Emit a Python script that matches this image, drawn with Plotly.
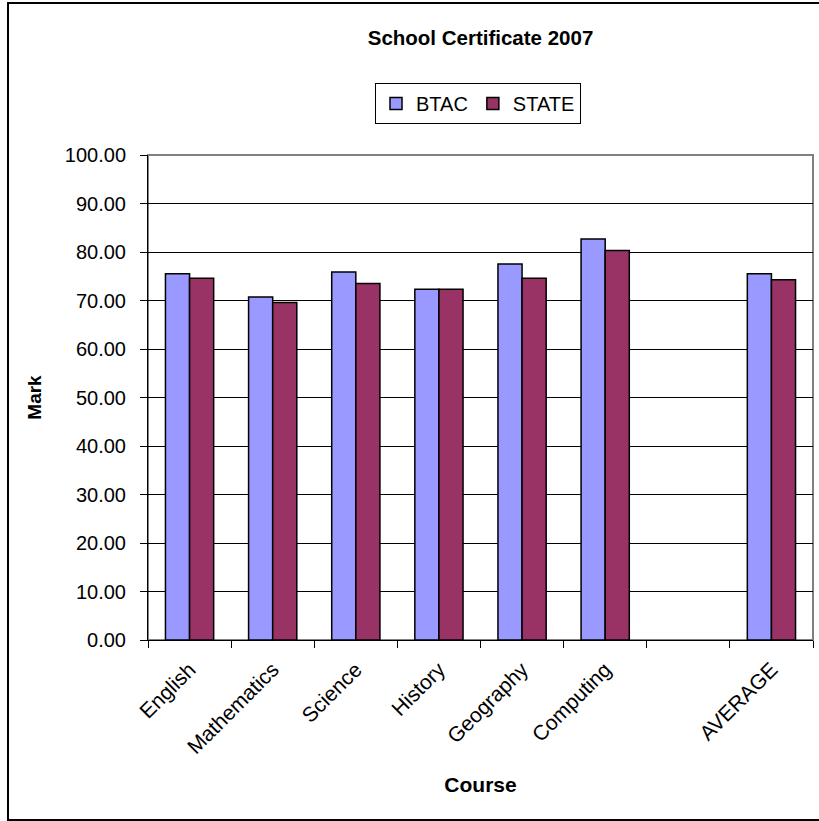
import plotly.graph_objects as go

categories = ["English", "Mathematics", "Science", "History", "Geography", "Computing", " ", "AVERAGE"]
btac = [75.5, 70.7, 75.9, 72.3, 77.5, 82.7, None, 75.5]
state = [74.6, 69.6, 73.5, 72.3, 74.6, 80.3, None, 74.3]
y_ticks = [0, 10, 20, 30, 40, 50, 60, 70, 80, 90, 100]

FONT = "Liberation Sans, Arial, sans-serif"

fig = go.Figure()
fig.add_trace(go.Bar(name="BTAC", x=categories, y=btac,
                     marker=dict(color="#9999FF", line=dict(color="black", width=1.5))))
fig.add_trace(go.Bar(name="STATE", x=categories, y=state,
                     marker=dict(color="#993366", line=dict(color="black", width=1.5))))

W, H = 819, 821
L, R, T, B = 148, 813, 155, 640

def px2x(px):
    return (px - L) / (R - L)

def py2y(py):
    return (B - py) / (B - T)

fig.update_layout(
    width=W, height=H,
    margin=dict(l=L, r=W - R, t=T, b=H - B, autoexpand=False),
    paper_bgcolor="white", plot_bgcolor="white",
    font=dict(family=FONT, size=20, color="black"),
    barmode="group", bargap=0.42, bargroupgap=0,
    title=dict(text="<b>School Certificate 2007</b>", x=0.5, xref="paper",
               y=1 - 38 / H, yref="container", yanchor="middle", xanchor="center",
               font=dict(size=20.5, family=FONT, color="black")),
    legend=dict(orientation="h", x=px2x(478), xanchor="center", y=py2y(83), yanchor="top",
                bordercolor="black", borderwidth=1, bgcolor="white",
                font=dict(size=20, family=FONT), itemwidth=30, tracegroupgap=0),
    showlegend=True,
    xaxis=dict(categoryorder="array", categoryarray=categories, tickangle=-45,
               showline=True, linecolor="black", linewidth=1,
               ticks="outside", ticklen=7, tickcolor="black", tickson="boundaries",
               tickfont=dict(size=21, family=FONT), ticklabelstandoff=8,
               title=dict(text="<b>Course</b>", font=dict(size=21, family=FONT), standoff=20),
               showgrid=False),
    yaxis=dict(range=[0, 100], tickvals=y_ticks, tickformat=".2f",
               showline=True, linecolor="black", linewidth=1,
               ticks="outside", ticklen=7, tickcolor="black",
               gridcolor="black", gridwidth=1, zeroline=False,
               tickfont=dict(size=20, family=FONT), ticklabelstandoff=10,
               title=dict(text="<b>Mark</b>", font=dict(size=19, family=FONT), standoff=18)),
    shapes=[
        dict(type="rect", xref="paper", yref="paper", x0=0, x1=1, y0=0, y1=1,
             line=dict(color="#808080", width=2), layer="below"),
        dict(type="rect", xref="paper", yref="paper", x0=px2x(8), x1=px2x(830),
             y0=py2y(820), y1=py2y(3), line=dict(color="black", width=2), layer="below"),
    ],
)

fig.write_html("out.html", config={"displayModeBar": False},
               post_script="document.body.style.margin='0px';")
